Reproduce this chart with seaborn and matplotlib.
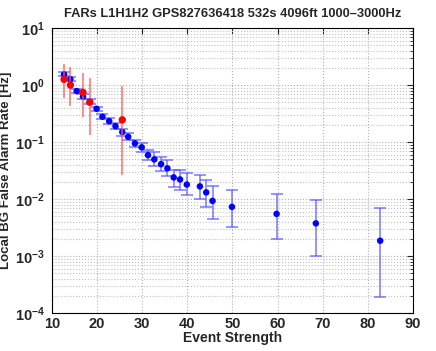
import numpy as np
import pandas as pd
import matplotlib
matplotlib.use('Agg')
import matplotlib.pyplot as plt
import seaborn as sns
from matplotlib.ticker import LogLocator, NullFormatter

# background (blue) false alarm rates
bg_strength = [12.7, 14.1, 15.5, 16.9, 18.4, 19.9, 21.2, 22.7, 24.1, 25.6, 26.9, 28.4, 29.9,
               31.3, 32.7, 34.2, 35.6, 37.0, 38.4, 39.9, 42.8, 44.2, 45.6, 49.9, 59.8, 68.5, 82.75]
bg_rate = [1.54, 1.27, 0.785, 0.63, 0.51, 0.384, 0.278, 0.233, 0.19, 0.15, 0.124, 0.095, 0.081,
           0.059, 0.0497, 0.041, 0.0347, 0.024, 0.0221, 0.018, 0.0167, 0.0131, 0.0093, 0.0073,
           0.0055, 0.00375, 0.00186]
bg_lo = [1.42, 1.17, 0.73, 0.57, 0.46, 0.35, 0.25, 0.21, 0.17, 0.13, 0.108, 0.082, 0.068,
         0.048, 0.0385, 0.031, 0.025, 0.016, 0.0146, 0.0116, 0.010, 0.0072, 0.0045, 0.0032,
         0.0020, 0.0010, 0.000195]
bg_hi = [1.67, 1.38, 0.85, 0.70, 0.56, 0.42, 0.31, 0.26, 0.215, 0.17, 0.142, 0.11, 0.096,
         0.072, 0.066, 0.054, 0.0477, 0.033, 0.032, 0.0286, 0.026, 0.0216, 0.0171, 0.0146,
         0.0124, 0.0097, 0.0071]

# foreground (red) events
fg_strength = [12.7, 14.1, 16.9, 18.4, 25.6]
fg_rate = [1.26, 1.0, 0.744, 0.50, 0.246]
fg_lo = [0.60, 0.43, 0.27, 0.133, 0.026]
fg_hi = [2.33, 2.04, 1.64, 1.31, 0.96]

bg = pd.DataFrame({'strength': bg_strength, 'rate': bg_rate, 'lo': bg_lo, 'hi': bg_hi})
fg = pd.DataFrame({'strength': fg_strength, 'rate': fg_rate, 'lo': fg_lo, 'hi': fg_hi})

sns.set_style('white')
plt.rcParams['font.family'] = ['Liberation Sans', 'DejaVu Sans']
plt.rcParams['font.weight'] = 'bold'

fig = plt.figure(figsize=(4.36, 3.51), dpi=100)
ax = fig.add_axes([0.119, 0.108, 0.828, 0.812])

# error bars
ax.errorbar(bg['strength'], bg['rate'],
            yerr=[bg['rate'] - bg['lo'], bg['hi'] - bg['rate']],
            fmt='none', ecolor=(0.35, 0.35, 1.0, 0.75), elinewidth=1.2, capsize=4, capthick=1.2, zorder=2)
sns.scatterplot(data=bg, x='strength', y='rate', ax=ax, color='#0000ff', s=22,
                edgecolor='none', zorder=3)

ax.errorbar(fg['strength'], fg['rate'],
            yerr=[fg['rate'] - fg['lo'], fg['hi'] - fg['rate']],
            fmt='none', ecolor=(1.0, 0.35, 0.35, 0.8), elinewidth=1.2, capsize=0, zorder=4)
sns.scatterplot(data=fg, x='strength', y='rate', ax=ax, color='#ff0000', s=28,
                edgecolor='none', zorder=5)

ax.set_yscale('log')
ax.set_xlim(10, 90)
ax.set_ylim(1e-4, 10)
ax.set_xticks(range(10, 91, 10))
ax.yaxis.set_major_locator(LogLocator(base=10, numticks=10))
ax.yaxis.set_minor_locator(LogLocator(base=10, subs=np.arange(2, 10), numticks=10))
ax.yaxis.set_minor_formatter(NullFormatter())

ax.grid(True, which='major', axis='both', color='#b0b0b0', linestyle=':', linewidth=0.8)
ax.grid(True, which='minor', axis='y', color='#c0c0c0', linestyle=':', linewidth=0.8)
ax.set_axisbelow(True)

ax.tick_params(which='both', direction='in', top=True, right=True, labelsize=10.5)
ax.tick_params(which='major', length=4)
ax.tick_params(which='minor', length=2)
ax.tick_params(axis='x', pad=3)
ax.tick_params(axis='y', pad=5)
for lab in ax.get_xticklabels() + ax.get_yticklabels():
    lab.set_fontweight('bold')
for s in ax.spines.values():
    s.set_color('black')
    s.set_linewidth(0.8)

ax.set_xlabel('Event Strength', fontsize=10, fontweight='bold', labelpad=0)
ax.set_ylabel('Local BG False Alarm Rate [Hz]', fontsize=9.5, fontweight='bold', labelpad=2)
ax.set_title('FARs L1H1H2 GPS827636418 532s 4096ft 1000\u20133000Hz', fontsize=9.3, fontweight='bold', pad=8)

fig.savefig('out.png', dpi=100)
